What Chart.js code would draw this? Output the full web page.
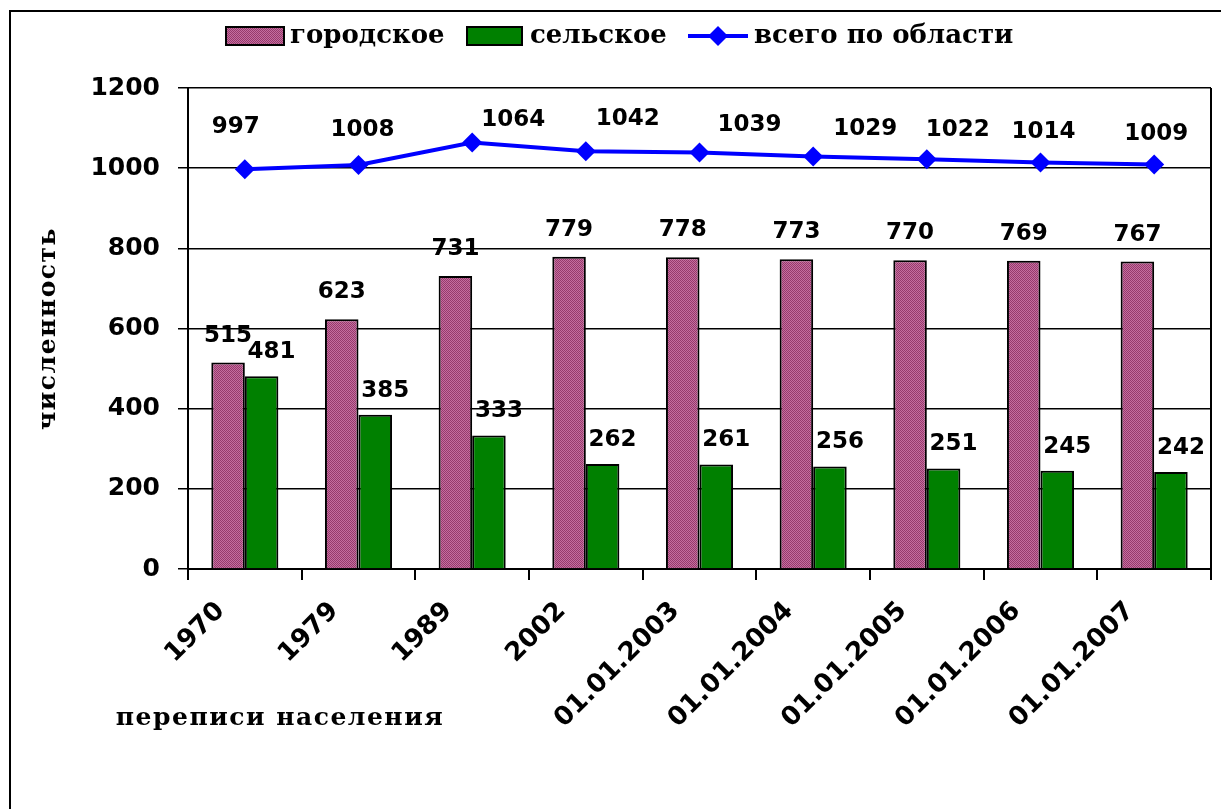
<!DOCTYPE html>
<html><head><meta charset="utf-8">
<script src="https://cdn.jsdelivr.net/npm/chart.js@4"></script>
<style>html,body{margin:0;padding:0;background:#fff;} #wrap{width:1221px;height:809px;position:relative;}</style>
</head><body>
<div id="wrap"><canvas id="c" width="1221" height="809"></canvas></div>
<script>
const categories = ['1970','1979','1989','2002','01.01.2003','01.01.2004','01.01.2005','01.01.2006','01.01.2007'];
const urban = [515,623,731,779,778,773,770,769,767];
const rural = [481,385,333,262,261,256,251,245,242];
const total = [997,1008,1064,1042,1039,1029,1022,1014,1009];
const yTickValues = [0,200,400,600,800,1000,1200];
const seriesNames = ['городское','сельское','всего по области'];
const yTitle = 'численность';
const xTitle = 'переписи населения';
const totalLabelNudgeX = [-9,4,41,42,50,52,31,3,2];
const totalLabelNudgeY = [-42,-35,-22,-32,-28,-28,-29,-31,-31];

const canvas = document.getElementById('c');
const ctx = canvas.getContext('2d');

const pc = document.createElement('canvas'); pc.width = 2; pc.height = 2;
const pctx = pc.getContext('2d');
pctx.fillStyle = '#C56E9F'; pctx.fillRect(0,0,2,2);
pctx.fillStyle = '#963A6C'; pctx.fillRect(0,0,1,1); pctx.fillRect(1,1,1,1);
const pinkPattern = ctx.createPattern(pc, 'repeat');

const numFont = '"DejaVu Sans", Verdana, sans-serif';
const txtFont = '"DejaVu Serif", "Liberation Serif", serif';

function drawDiamond(c, x, y, r) {
  c.beginPath(); c.moveTo(x, y - r); c.lineTo(x + r, y); c.lineTo(x, y + r); c.lineTo(x - r, y); c.closePath(); c.fill();
}

const extras = {
  id: 'extras',
  afterDraw(chart) {
    const c = chart.ctx;
    const a = chart.chartArea;
    c.save();
    // outer frame
    c.strokeStyle = '#000'; c.lineWidth = 2;
    c.beginPath(); c.moveTo(10, 809); c.lineTo(10, 11); c.lineTo(1221, 11); c.stroke();
    // right plot border
    c.beginPath(); c.moveTo(a.right, a.top); c.lineTo(a.right, a.bottom + 11); c.stroke();

    // data labels
    c.fillStyle = '#000';
    c.font = 'bold 23px ' + numFont;
    c.textAlign = 'center'; c.textBaseline = 'middle';
    const mLine = chart.getDatasetMeta(0), mU = chart.getDatasetMeta(1), mR = chart.getDatasetMeta(2);
    mU.data.forEach((el, i) => { c.fillText(String(urban[i]), el.x, el.y - 27); });
    mR.data.forEach((el, i) => { c.fillText(String(rural[i]), el.x + 10, el.y - 24); });
    mLine.data.forEach((el, i) => { c.fillText(String(total[i]), el.x + totalLabelNudgeX[i], el.y + totalLabelNudgeY[i]); });

    // legend
    const ly = 36;
    c.lineWidth = 2; c.strokeStyle = '#000';
    c.fillStyle = pinkPattern; c.fillRect(226, 27, 58, 18); c.strokeRect(226, 27, 58, 18);
    c.fillStyle = '#008000'; c.fillRect(467, 27, 55, 18); c.strokeRect(467, 27, 55, 18);
    c.strokeStyle = '#0000FF'; c.lineWidth = 4;
    c.beginPath(); c.moveTo(688, ly); c.lineTo(748, ly); c.stroke();
    c.fillStyle = '#0000FF'; drawDiamond(c, 718, ly, 10);
    c.fillStyle = '#000'; c.textAlign = 'left'; c.textBaseline = 'middle';
    c.font = 'bold 26px ' + txtFont;
    c.fillText(seriesNames[0], 290, ly);
    c.fillText(seriesNames[1], 530, ly);
    c.fillText(seriesNames[2], 754, ly);

    // axis titles
    c.font = 'bold 25px ' + txtFont;
    try { c.letterSpacing = '1.5px'; } catch(e) {}
    c.textAlign = 'center';
    c.save(); c.translate(48, (a.top + a.bottom) / 2); c.rotate(-Math.PI / 2);
    c.fillText(yTitle, 0, 0); c.restore();
    c.fillText(xTitle, 280, 718);
    c.restore();
  }
};

new Chart(ctx, {
  type: 'bar',
  data: {
    labels: categories,
    datasets: [
      { type: 'line', label: seriesNames[2], data: total, borderColor: '#0000FF', borderWidth: 4,
        pointStyle: 'rectRot', pointRadius: 10, pointHoverRadius: 10, pointBackgroundColor: '#0000FF',
        pointBorderColor: '#0000FF', pointBorderWidth: 0, tension: 0, order: 0, fill: false },
      { label: seriesNames[0], data: urban, backgroundColor: pinkPattern, borderColor: '#000', borderWidth: 2, order: 1 },
      { label: seriesNames[1], data: rural, backgroundColor: '#008000', borderColor: '#000', borderWidth: 2, order: 1 }
    ]
  },
  options: {
    responsive: false,
    animation: false,
    devicePixelRatio: 1,
    categoryPercentage: 0.59,
    barPercentage: 1.0,
    layout: { padding: { top: 88, left: 0, right: 9, bottom: 0 } },
    plugins: { legend: { display: false }, tooltip: { enabled: false }, title: { display: false } },
    scales: {
      x: {
        grid: { offset: true, drawOnChartArea: false, drawTicks: true, tickLength: 11, color: '#000', lineWidth: 2 },
        border: { color: '#000', width: 2 },
        ticks: { color: '#000', font: { family: numFont, size: 26, weight: 'bold' }, minRotation: 45, maxRotation: 45, padding: 16, labelOffset: -24, autoSkip: false },
        afterFit(s) { s.height = 240; }
      },
      y: {
        min: 0, max: 1200,
        afterBuildTicks(s) { s.ticks = yTickValues.map(v => ({ value: v })); },
        grid: { color: '#000', lineWidth: 1.5, tickLength: 10 },
        border: { color: '#000', width: 2 },
        ticks: { color: '#000', font: { family: numFont, size: 25, weight: 'bold' }, padding: 18, callback: (v) => String(v) },
        afterFit(s) { s.width = 188; }
      }
    }
  },
  plugins: [extras]
});
</script>
</body></html>
